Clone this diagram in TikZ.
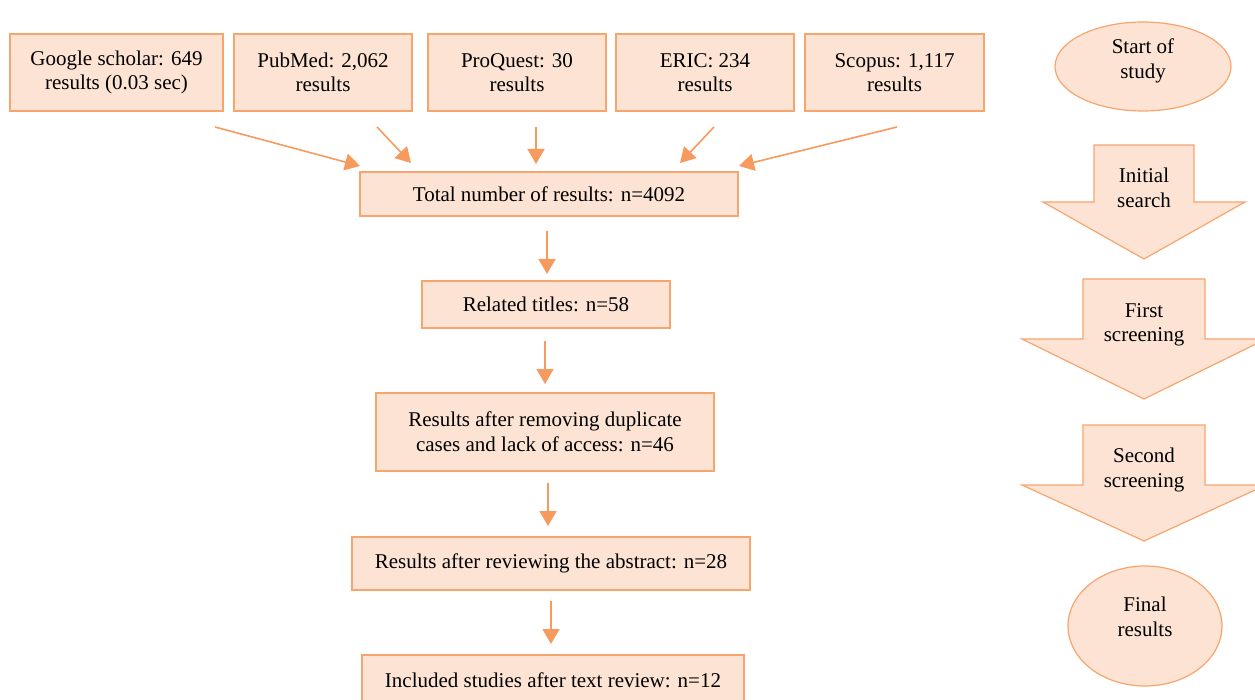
\documentclass[tikz,border=0pt]{standalone}
\usepackage{fontspec}
\setmainfont{Liberation Serif}
\usetikzlibrary{arrows.meta,shapes.geometric}
\definecolor{boxfill}{HTML}{FDE3D3}
\definecolor{boxline}{HTML}{F7A56E}
\definecolor{arrowc}{HTML}{F79A5E}
\tikzset{
  txt/.style={font=\fontsize{21}{24.5}\selectfont},
  box/.style={txt,draw=boxline,fill=boxfill,line width=1.2pt,inner sep=0pt,align=center},
  oval/.style={ellipse,draw=boxline,fill=boxfill,line width=1.2pt,inner sep=0pt},
  bigarrow/.style={draw=boxline,fill=boxfill,line width=1.2pt},
  lbl/.style={txt,align=center,inner sep=0pt},
  conn/.style={draw=arrowc,line width=1.6pt,-{Triangle[length=15pt,width=17pt]}}
}
\begin{document}
\begin{tikzpicture}[x=1pt,y=-1pt]
\useasboundingbox (0,0) rectangle (1255,700);
% top sources
\node[box,minimum width=213pt,minimum height=77pt] (g) at (116.5,72.5) {Google scholar: 649\\results (0.03 sec)};
\node[box,minimum width=178pt,minimum height=77pt] (p) at (323,72.5) {PubMed: 2,062\\results};
\node[box,minimum width=178pt,minimum height=77pt] (q) at (517,72.5) {ProQuest: 30\\results};
\node[box,minimum width=178pt,minimum height=77pt] (e) at (705,72.5) {ERIC: 234\\results};
\node[box,minimum width=179pt,minimum height=77pt] (s) at (894.5,72.5) {Scopus: 1,117\\results};
% main chain
\node[box,minimum width=378pt,minimum height=44pt] (t) at (549,194) {Total number of results: n=4092};
\node[box,minimum width=248pt,minimum height=47pt] (r) at (546,304.5) {Related titles: n=58};
\node[box,minimum width=338pt,minimum height=78pt] (d) at (545,432) {Results after removing duplicate\\cases and lack of access: n=46};
\node[box,minimum width=398pt,minimum height=53pt] (a) at (551,563.5) {Results after reviewing the abstract: n=28};
\node[box,minimum width=382pt,minimum height=50pt] (i) at (553,680) {Included studies after text review: n=12};
% arrow end coordinates
\coordinate (g1) at (215,127); \coordinate (g2) at (360,166);
\coordinate (p1) at (377,127); \coordinate (p2) at (411,163);
\coordinate (q1) at (536,127); \coordinate (q2) at (536,164);
\coordinate (e1) at (714,127); \coordinate (e2) at (680,163);
\coordinate (s1) at (897,127); \coordinate (s2) at (739,166);
\coordinate (t1) at (547,231); \coordinate (t2) at (547,274);
\coordinate (r1) at (545,341); \coordinate (r2) at (545,384);
\coordinate (d1) at (548,483); \coordinate (d2) at (548,526);
\coordinate (a1) at (551,601); \coordinate (a2) at (551,644);
\draw[conn] (g1) -- (g2);
\draw[conn] (p1) -- (p2);
\draw[conn] (q1) -- (q2);
\draw[conn] (e1) -- (e2);
\draw[conn] (s1) -- (s2);
\draw[conn] (t1) -- (t2);
\draw[conn] (r1) -- (r2);
\draw[conn] (d1) -- (d2);
\draw[conn] (a1) -- (a2);
% right column
\node[oval,minimum width=176pt,minimum height=89pt] (st) at (1143,66.5) {};
\node[lbl] (stl) at (1143,61) {Start of\\study};
\path[bigarrow] (1094,145) -- (1194,145) -- (1194,202) -- (1245,202) -- (1144,259) -- (1043,202) -- (1094,202) -- cycle;
\node[lbl] (is) at (1144,188) {Initial\\search};
\path[bigarrow] (1083,279) -- (1205,279) -- (1205,339) -- (1266,339) -- (1144,399) -- (1022,339) -- (1083,339) -- cycle;
\node[lbl] (fs) at (1144,325) {First\\screening};
\path[bigarrow] (1083,425) -- (1205,425) -- (1205,485) -- (1266,485) -- (1144,541) -- (1022,485) -- (1083,485) -- cycle;
\node[lbl] (ss) at (1144,470) {Second\\screening};
\node[oval,minimum width=154pt,minimum height=120pt] (fr) at (1145,626) {};
\node[lbl] (frl) at (1145,617) {Final\\results};
\end{tikzpicture}
\end{document}
